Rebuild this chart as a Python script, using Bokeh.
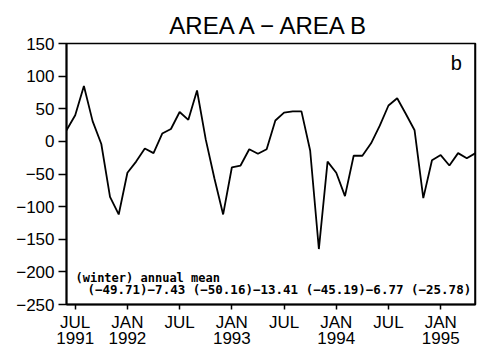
import numpy as np
from bokeh.plotting import figure
from bokeh.models import Range1d, FixedTicker, Label, Span
from bokeh.embed import file_html
from bokeh.resources import INLINE

# Monthly difference series, June 1991 - May 1995
start_year, start_month = 1991, 6
values = [
    17, 40, 85, 31, -4, -85, -112,                 # Jun-Dec 1991
    -48, -31, -11, -18, 12, 19, 45, 33, 78, 3, -57, -112,   # 1992
    -40, -37, -12, -19, -12, 32, 44, 46, 46, -14, -165, -31,  # 1993
    -48, -84, -22, -22, -3, 24, 55, 66, 42, 17, -87, -29,   # 1994
    -21, -37, -18, -26, -18,                        # Jan-May 1995
]
months = [f"{start_year + (start_month - 1 + i) // 12}-{(start_month - 1 + i) % 12 + 1:02d}"
          for i in range(len(values))]

xtick_months = ["1991-07", "1992-01", "1992-07", "1993-01",
                "1993-07", "1994-01", "1994-07", "1995-01"]
xtick_labels = ["JUL\n1991", "JAN\n1992", "JUL", "JAN\n1993",
                "JUL", "JAN\n1994", "JUL", "JAN\n1995"]
ytick_values = [150, 100, 50, 0, -50, -100, -150, -200, -250]
ytick_labels = ["150", "100", "50", "0", "−50", "−100", "−150", "−200", "−250"]

winter_means = [-49.71, -50.16, -45.19, -25.78]
annual_means = [-7.43, -13.41, -6.77]


def month_index(m):
    y, mo = map(int, m.split("-"))
    return (y - start_year) * 12 + (mo - start_month)


x = [month_index(m) for m in months]

p = figure(width=477, height=350, output_backend="svg", toolbar_location=None,
           x_range=Range1d(x[0], x[-1]), y_range=Range1d(-250, 150),
           min_border_left=66, min_border_right=2, min_border_top=43,
           min_border_bottom=45)

p.title.text = "AREA A − AREA B"
p.title.align = "center"
p.title.text_font = "Liberation Sans"
p.title.text_font_size = "24px"
p.title.text_font_style = "normal"
p.title.text_color = "black"
p.title.standoff = 10

p.xgrid.visible = False
p.ygrid.visible = False
p.outline_line_color = "black"
p.outline_line_width = 1.5

p.line(x, values, line_color="black", line_width=1.8)

# axes
xt = [month_index(m) for m in xtick_months]
p.xaxis.ticker = FixedTicker(ticks=xt)
p.xaxis.major_label_overrides = {t: lab for t, lab in zip(xt, xtick_labels)}
p.yaxis.ticker = FixedTicker(ticks=ytick_values)
p.yaxis.major_label_overrides = {t: lab for t, lab in zip(ytick_values, ytick_labels)}

for ax in (p.xaxis[0], p.yaxis[0]):
    ax.axis_line_width = 2
    ax.axis_line_color = "black"
    ax.major_tick_line_color = "black"
    ax.major_tick_line_width = 1.5
    ax.major_tick_in = 0
    ax.minor_tick_line_color = None
    ax.major_label_text_font = "Liberation Sans"
    ax.major_label_text_font_size = "17px"
    ax.major_label_text_color = "black"

p.yaxis.major_tick_out = 8
p.yaxis.major_label_standoff = 4
p.xaxis.major_tick_out = 5
p.xaxis.major_label_standoff = 3
p.xaxis.major_label_text_line_height = 0.85

# right border drawn heavier
p.add_layout(Span(location=x[-1], dimension="height", line_color="black", line_width=2.5))

# panel letter
p.add_layout(Label(x=44.8, y=120, text="b", text_font="Liberation Sans",
                   text_font_size="20px", text_align="center", text_baseline="middle",
                   text_color="black"))


def fmt(v):
    return f"{v:.2f}".replace("-", "−")


parts = []
for i, w in enumerate(winter_means):
    s = f"({fmt(w)})"
    if i < len(annual_means):
        s += fmt(annual_means[i])
    parts.append(s)
means_line = " ".join(parts)

p.add_layout(Label(x=1.03, y=-209, text="(winter) annual mean",
                   text_font="DejaVu Sans Mono", text_font_style="bold",
                   text_font_size="12px", text_align="left", text_baseline="middle",
                   text_color="black"))
p.add_layout(Label(x=2.4, y=-227, text=means_line,
                   text_font="DejaVu Sans Mono", text_font_style="bold",
                   text_font_size="12.5px", text_align="left", text_baseline="middle",
                   text_color="black"))

open("out.html", "w").write(file_html(p, INLINE))
